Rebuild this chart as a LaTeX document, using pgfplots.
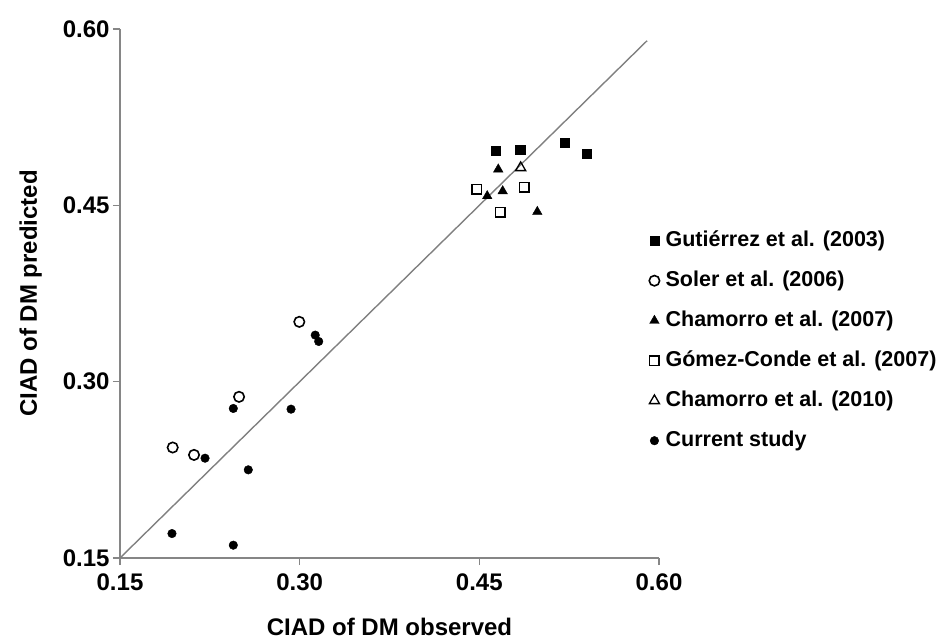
\documentclass[border=0pt]{standalone}
\usepackage{fontspec}
\setmainfont{Liberation Sans}
\usepackage{pgfplots}
\pgfplotsset{compat=1.18}
\definecolor{axgray}{HTML}{868686}
\definecolor{linegray}{HTML}{808080}
\begin{document}
\begin{tikzpicture}
\useasboundingbox (-120bp,-82bp) rectangle (825bp,558bp);
\begin{axis}[
  width=539bp, height=529bp, scale only axis,
  xmin=0.15, xmax=0.60, ymin=0.15, ymax=0.60,
  xtick={0.15,0.30,0.45,0.60}, ytick={0.15,0.30,0.45,0.60},
  axis x line*=bottom, axis y line*=left,
  axis line style={draw=axgray, line width=1.3bp, -},
  tick align=outside, major tick length=7bp,
  tick style={draw=axgray, line width=1.3bp},
  /pgf/number format/assume math mode=true,
  tick label style={font=\bfseries\fontsize{24bp}{28bp}\selectfont,
    /pgf/number format/fixed, /pgf/number format/fixed zerofill,
    /pgf/number format/precision=2},
  xticklabel style={yshift=-5bp},
  xlabel={CIAD of DM observed}, ylabel={CIAD of DM predicted},
  label style={font=\bfseries\fontsize{24bp}{28bp}\selectfont},
  xlabel style={at={(axis description cs:0.5,-0.1474)}, anchor=base, inner sep=0pt},
  ylabel style={at={(axis description cs:-0.154,0.5)}, anchor=base, inner sep=0pt},
  clip=false,
  legend image code/.code={\draw[#1] plot coordinates {(5bp,0bp)};},
  legend cell align=left,
  legend style={draw=none, fill=none, at={(0.9815,0.6238)}, anchor=north west,
    font=\bfseries\fontsize{21.5bp}{26bp}\selectfont, inner sep=0pt,
    row sep=15bp, column sep=4bp,
    nodes={inner sep=2bp, text height=16bp, text depth=5bp}},
]
\addplot[linegray, line width=1.4bp, no marks, forget plot] coordinates {(0.15,0.15) (0.59,0.59)};
\addplot[only marks, mark=square*, mark size=4.6bp, black] coordinates {
 (0.4637,0.4962) (0.4842,0.4970) (0.5215,0.5030) (0.5396,0.4942)};
\addlegendentry{Gutiérrez et al. (2003)}
\addplot[only marks, mark=o, mark size=5.2bp, black, line width=1.6bp, mark options={fill=white}] coordinates {
 (0.2997,0.3509) (0.2494,0.2871) (0.1940,0.2440) (0.2118,0.2377)};
\addlegendentry{Soler et al. (2006)}
\addplot[only marks, mark=triangle*, mark size=5.5bp, black] coordinates {
 (0.4658,0.4806) (0.4695,0.4621) (0.4566,0.4579) (0.4984,0.4445)};
\addlegendentry{Chamorro et al. (2007)}
\addplot[only marks, mark=square, mark size=4.8bp, black, line width=1.6bp, mark options={fill=white}] coordinates {
 (0.4478,0.4636) (0.4875,0.4655) (0.4675,0.4440)};
\addlegendentry{Gómez-Conde et al. (2007)}
\addplot[only marks, mark=triangle, mark size=5.8bp, black, line width=1.3bp] coordinates {
 (0.4845,0.4820)};
\addlegendentry{Chamorro et al. (2010)}
\addplot[only marks, mark=*, mark size=4.3bp, black] coordinates {
 (0.3130,0.3396) (0.3159,0.3342) (0.2446,0.2772) (0.2928,0.2766)
 (0.2210,0.2349) (0.2571,0.2250) (0.1934,0.1708) (0.2446,0.1609)};
\addlegendentry{Current study}
\end{axis}
\end{tikzpicture}
\end{document}
